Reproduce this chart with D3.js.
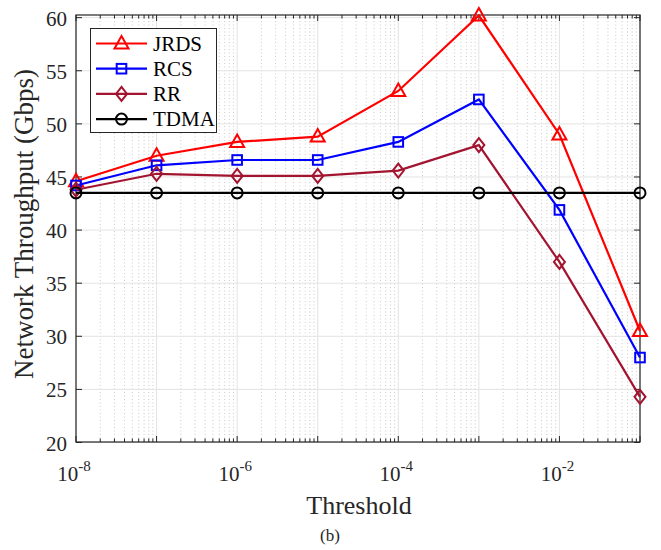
<!DOCTYPE html>
<html>
<head>
<meta charset="utf-8">
<script src="https://cdn.jsdelivr.net/npm/d3@7"></script>
<style>
body { margin: 0; background: white; }
svg text { font-family: "Liberation Serif", "Times New Roman", serif; fill: #262626; }
</style>
</head>
<body>
<script>
const width = 661
const height = 550
const margin = {left: 76, right: 21, top: 15, bottom: 108}

const thresholds = [1e-8, 1e-7, 1e-6, 1e-5, 1e-4, 1e-3, 1e-2, 1e-1]
const jrds = [44.6, 47.0, 48.3, 48.8, 53.1, 60.2, 49.0, 30.5]
const rcs = [44.2, 46.1, 46.6, 46.6, 48.3, 52.3, 41.9, 28.0]
const rr = [43.8, 45.3, 45.1, 45.1, 45.6, 48.0, 37.0, 24.3]
const tdma = [43.5, 43.5, 43.5, 43.5, 43.5, 43.5, 43.5, 43.5]
const names = ["JRDS", "RCS", "RR", "TDMA"]
const colors = ["#ff0000", "#0000ff", "#a2142f", "#000000"]
const markers = ["triangle", "square", "diamond", "circle"]
const yTicks = [20, 25, 30, 35, 40, 45, 50, 55, 60]
const xTicks = [1e-8, 1e-6, 1e-4, 1e-2]
const xTickExp = ["-8", "-6", "-4", "-2"]

const series = [jrds, rcs, rr, tdma]
const serif = "'Liberation Serif', 'Times New Roman', serif"

let x = d3.scaleLog()
    .domain([1e-8, 1e-1])
    .range([margin.left, width - margin.right])

let y = d3.scaleLinear()
    .domain([20, 60.25])
    .range([height - margin.bottom + 0.5, margin.top])

let svg = d3.select("body")
    .append("svg")
    .attr("width", width)
    .attr("height", height)
    .attr("font-family", serif)

const x0 = margin.left, x1 = width - margin.right
const y0 = height - margin.bottom, y1 = margin.top

// minor ticks positions
let minor = []
for(let e = -8; e < -1; e++){
    for(let k = 2; k < 10; k++){
        minor.push(k * Math.pow(10, e))
    }
}
let majorX = d3.range(-8, 0).map(e => Math.pow(10, e))

// grid
svg.selectAll(".minorGrid")
    .data(minor)
    .enter()
    .append("line")
    .attr("x1", d => x(d)).attr("x2", d => x(d))
    .attr("y1", y0).attr("y2", y1)
    .attr("stroke", "#bdbdbd")
    .attr("stroke-width", 0.8)
    .attr("stroke-dasharray", "1,2.5")

svg.selectAll(".majorGridX")
    .data(majorX)
    .enter()
    .append("line")
    .attr("x1", d => x(d)).attr("x2", d => x(d))
    .attr("y1", y0).attr("y2", y1)
    .attr("stroke", "#e3e3e3")
    .attr("stroke-width", 1)

svg.selectAll(".majorGridY")
    .data(yTicks)
    .enter()
    .append("line")
    .attr("x1", x0).attr("x2", x1)
    .attr("y1", d => y(d)).attr("y2", d => y(d))
    .attr("stroke", "#e3e3e3")
    .attr("stroke-width", 1)

// ticks inward on all four sides
const tickColor = "#262626"
svg.selectAll(".minorTickB")
    .data(minor)
    .enter()
    .append("line")
    .attr("x1", d => x(d)).attr("x2", d => x(d))
    .attr("y1", y0).attr("y2", y0 - 3.5)
    .attr("stroke", tickColor)
svg.selectAll(".minorTickT")
    .data(minor)
    .enter()
    .append("line")
    .attr("x1", d => x(d)).attr("x2", d => x(d))
    .attr("y1", y1).attr("y2", y1 + 3.5)
    .attr("stroke", tickColor)
svg.selectAll(".majorTickB")
    .data(majorX)
    .enter()
    .append("line")
    .attr("x1", d => x(d)).attr("x2", d => x(d))
    .attr("y1", y0).attr("y2", y0 - 6)
    .attr("stroke", tickColor)
svg.selectAll(".majorTickT")
    .data(majorX)
    .enter()
    .append("line")
    .attr("x1", d => x(d)).attr("x2", d => x(d))
    .attr("y1", y1).attr("y2", y1 + 6)
    .attr("stroke", tickColor)
svg.selectAll(".yTickL")
    .data(yTicks)
    .enter()
    .append("line")
    .attr("x1", x0).attr("x2", x0 + 6)
    .attr("y1", d => y(d)).attr("y2", d => y(d))
    .attr("stroke", tickColor)
svg.selectAll(".yTickR")
    .data(yTicks)
    .enter()
    .append("line")
    .attr("x1", x1).attr("x2", x1 - 6)
    .attr("y1", d => y(d)).attr("y2", d => y(d))
    .attr("stroke", tickColor)

// box
svg.append("rect")
    .attr("x", x0).attr("y", y1)
    .attr("width", x1 - x0).attr("height", y0 - y1)
    .attr("fill", "none")
    .attr("stroke", tickColor)
    .attr("stroke-width", 1.2)

// tick labels
svg.selectAll(".yLabel")
    .data(yTicks)
    .enter()
    .append("text")
    .attr("x", x0 - 9)
    .attr("y", d => y(d) + 8)
    .attr("text-anchor", "end")
    .attr("font-family", serif)
    .attr("font-size", 21)
    .text(d => d)

let xl = svg.selectAll(".xLabel")
    .data(xTicks)
    .enter()
    .append("text")
    .attr("x", d => x(d) - 2)
    .attr("y", 481)
    .attr("text-anchor", "middle")
    .attr("font-family", serif)
    .attr("font-size", 21)
xl.append("tspan").text("10")
xl.append("tspan")
    .attr("dy", -10)
    .attr("font-size", 15)
    .text((d, i) => xTickExp[i])

// axis titles
svg.append("text")
    .attr("x", (x0 + x1) / 2 + 1)
    .attr("y", 514)
    .attr("text-anchor", "middle")
    .attr("font-family", serif)
    .attr("font-size", 26)
    .text("Threshold")

svg.append("text")
    .attr("transform", `translate(33, ${224}) rotate(-90)`)
    .attr("text-anchor", "middle")
    .attr("font-family", serif)
    .attr("font-size", 27)
    .text("Network Throughput (Gbps)")

svg.append("text")
    .attr("x", 330)
    .attr("y", 541)
    .attr("text-anchor", "middle")
    .attr("font-family", serif)
    .attr("font-size", 17)
    .text("(b)")

// markers
function drawMarker(g, type, cx, cy, color){
    if(type == "triangle"){
        g.append("path")
            .attr("d", `M${cx},${cy - 7.5} L${cx + 7},${cy + 5} L${cx - 7},${cy + 5} Z`)
            .attr("fill", "none").attr("stroke", color).attr("stroke-width", 2)
    } else if(type == "square"){
        g.append("rect")
            .attr("x", cx - 4.8).attr("y", cy - 4.8)
            .attr("width", 9.6).attr("height", 9.6)
            .attr("fill", "none").attr("stroke", color).attr("stroke-width", 2)
    } else if(type == "diamond"){
        g.append("path")
            .attr("d", `M${cx},${cy - 7} L${cx + 5.5},${cy} L${cx},${cy + 7} L${cx - 5.5},${cy} Z`)
            .attr("fill", "none").attr("stroke", color).attr("stroke-width", 2)
    } else {
        g.append("circle")
            .attr("cx", cx).attr("cy", cy).attr("r", 5.5)
            .attr("fill", "none").attr("stroke", color).attr("stroke-width", 2)
    }
}

let line = d3.line()
    .x((d, i) => x(thresholds[i]))
    .y(d => y(d))

series.forEach(function(s, k){
    let g = svg.append("g")
    g.append("path")
        .attr("d", line(s))
        .attr("fill", "none")
        .attr("stroke", colors[k])
        .attr("stroke-width", 2.2)
    s.forEach(function(v, i){
        drawMarker(g, markers[k], x(thresholds[i]), y(v), colors[k])
    })
})

// legend
let legend = svg.append("g")
legend.append("rect")
    .attr("x", 90.5).attr("y", 28.5)
    .attr("width", 126).attr("height", 104)
    .attr("fill", "white")
    .attr("stroke", tickColor)
    .attr("stroke-width", 1)

names.forEach(function(n, k){
    let ly = 43.5 + k * 25.2
    legend.append("line")
        .attr("x1", 96).attr("x2", 147)
        .attr("y1", ly).attr("y2", ly)
        .attr("stroke", colors[k])
        .attr("stroke-width", 2.2)
    drawMarker(legend, markers[k], 121.5, ly, colors[k])
    legend.append("text")
        .attr("x", 153)
        .attr("y", ly + 7)
        .attr("font-family", serif)
        .attr("font-size", 21)
        .style("fill", "#000")
        .text(n)
})
</script>
</body>
</html>
